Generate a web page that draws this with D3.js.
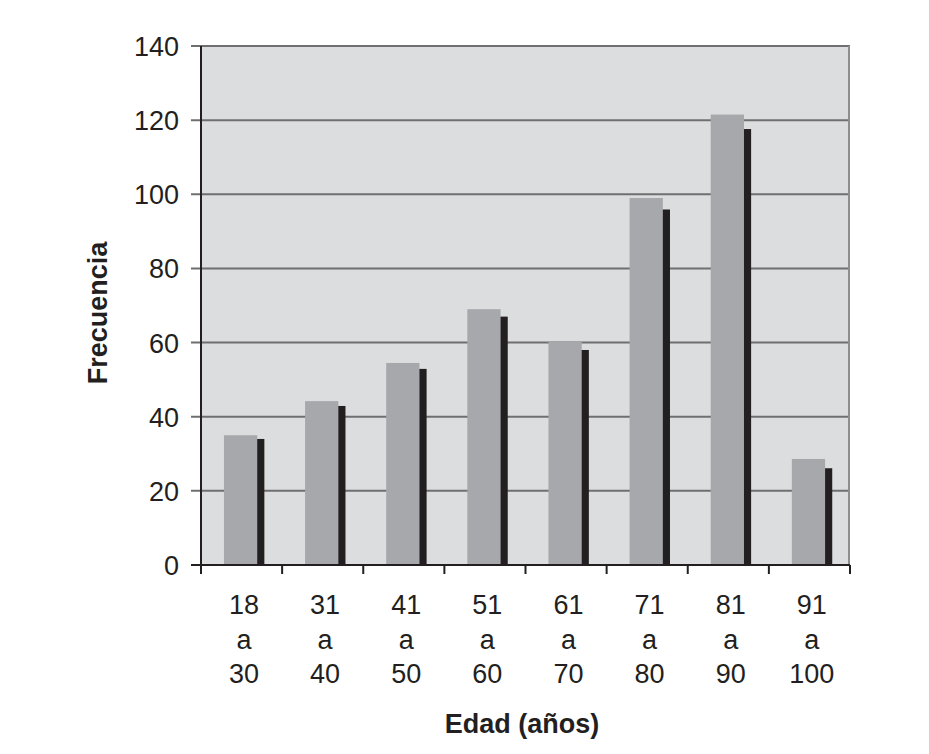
<!DOCTYPE html>
<html>
<head>
<meta charset="utf-8">
<script src="https://cdn.jsdelivr.net/npm/d3@7"></script>
<style>
  html, body { margin: 0; padding: 0; background: #ffffff; }
  svg { display: block; }
  text { font-family: "Liberation Sans", Arial, Helvetica, sans-serif; fill: #231f20; }
</style>
</head>
<body>
<svg id="chart" width="929" height="754"></svg>
<script>
// ---- data ----
const categories = [["18","a","30"],["31","a","40"],["41","a","50"],["51","a","60"],["61","a","70"],["71","a","80"],["81","a","90"],["91","a","100"]];
const seriesGray  = [35, 44.2, 54.5, 69, 60.2, 99, 121.5, 28.6];
const seriesBlack = [34, 42.9, 52.9, 67, 58, 95.9, 117.6, 26.1];
const yTicks = [0, 20, 40, 60, 80, 100, 120, 140];
const yTitle = "Frecuencia";
const xTitle = "Edad (años)";

// ---- layout ----
const W = 929, H = 754;
const L = 201, R = 850, T = 46, B = 565;
const svg = d3.select("#chart");

const keys = categories.map((c, i) => i);
const x = d3.scaleBand().domain(keys).range([L, R]).padding(0);
const y = d3.scaleLinear().domain([0, 140]).range([B, T]);
const bw = x.bandwidth();
const grayOff = bw * 0.283, barW = bw * 0.41, blackShift = bw * 0.088;

// plot background
svg.append("rect").attr("x", L).attr("y", T).attr("width", R - L).attr("height", B - T).attr("fill", "#dcdddf");

// gridlines + y ticks (gray)
svg.append("g").selectAll("line").data(yTicks.filter(d => d > 0)).join("line")
  .attr("x1", L - 10).attr("x2", R).attr("y1", d => y(d)).attr("y2", d => y(d))
  .attr("stroke", "#6f6f71").attr("stroke-width", 2);

// right border
svg.append("line").attr("x1", R - 1).attr("x2", R - 1).attr("y1", T).attr("y2", B)
  .attr("stroke", "#8e8e90").attr("stroke-width", 2);

// bars: black (behind) then gray
svg.append("g").selectAll("rect").data(seriesBlack).join("rect")
  .attr("x", (d, i) => x(i) + grayOff + blackShift)
  .attr("y", d => y(d))
  .attr("width", barW)
  .attr("height", d => B - y(d))
  .attr("fill", "#231f20");
svg.append("g").selectAll("rect").data(seriesGray).join("rect")
  .attr("x", (d, i) => x(i) + grayOff)
  .attr("y", d => y(d))
  .attr("width", barW)
  .attr("height", d => B - y(d))
  .attr("fill", "#a7a8ab");

// y axis line
svg.append("line").attr("x1", L).attr("x2", L).attr("y1", T).attr("y2", B + 9)
  .attr("stroke", "#231f20").attr("stroke-width", 2);
// y=0 tick + x axis line
svg.append("line").attr("x1", L - 10).attr("x2", R).attr("y1", B).attr("y2", B)
  .attr("stroke", "#231f20").attr("stroke-width", 2);
// x ticks at band boundaries
const bounds = keys.map(i => x(i)).concat([R]);
svg.append("g").selectAll("line").data(bounds).join("line")
  .attr("x1", d => d).attr("x2", d => d).attr("y1", B).attr("y2", B + 9)
  .attr("stroke", "#231f20").attr("stroke-width", 2);

// y tick labels
svg.append("g").selectAll("text").data(yTicks).join("text")
  .attr("x", 179).attr("y", d => y(d) + 10)
  .attr("text-anchor", "end").attr("font-size", 27)
  .text(d => d);

// x tick labels (three lines)
const xl = svg.append("g").selectAll("text").data(categories).join("text")
  .attr("text-anchor", "middle").attr("font-size", 27);
xl.each(function(c, i) {
  const t = d3.select(this);
  const cx = x(i) + bw * 0.53;
  c.forEach((s, k) => {
    t.append("tspan").attr("x", cx).attr("y", 614 + k * 34.5).text(s);
  });
});

// axis titles
svg.append("text")
  .attr("transform", `translate(107, 313) rotate(-90)`)
  .attr("text-anchor", "middle").attr("font-size", 27).attr("font-weight", "bold")
  .text(yTitle);
svg.append("text")
  .attr("x", 522).attr("y", 733)
  .attr("text-anchor", "middle").attr("font-size", 27).attr("font-weight", "bold")
  .text(xTitle);
</script>
</body>
</html>
